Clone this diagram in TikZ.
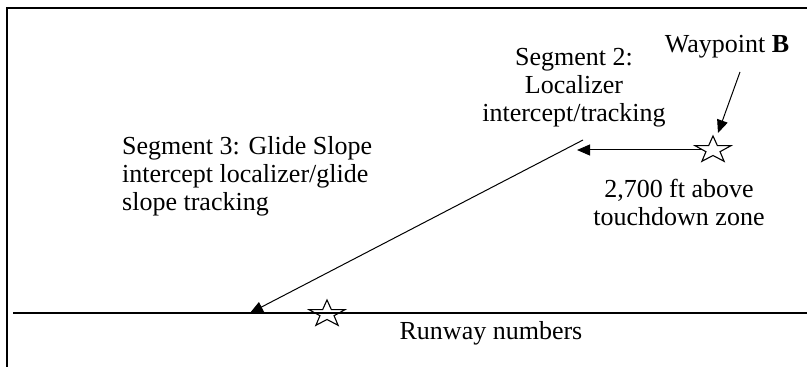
\documentclass[tikz,border=0pt]{standalone}
\usepackage{fontspec}
\setmainfont{Liberation Serif}
\usetikzlibrary{arrows.meta,shapes.geometric}

\begin{document}
\begin{tikzpicture}[x=1pt,y=1pt,
        lbl/.style={inner sep=0pt, font=\fontsize{26}{28}\selectfont},
        wpstar/.style={star, star points=5, star point ratio=2.55, draw, line width=1.1pt,
                       minimum size=28pt, inner sep=0pt, xscale=1.35},
        tip/.style={-{Triangle[length=13pt,width=11pt]}, line width=1pt}]
        \useasboundingbox (0,0) rectangle (807,367);

        % frame and runway
        \draw[line width=1.2pt] (7,0) -- (7,359) -- (807,359);
        \draw[line width=1.2pt] (13,54) -- (807,54);

        \node[wpstar] (wpb) at (713,217) {};
        \node[wpstar] (rwy) at (327,53) {};

        \coordinate (loctip) at (577,219);
        \coordinate (gstop) at (583,227);
        \coordinate (gstip) at (250,54);
        \coordinate (wpfrom) at (740,295);
        \coordinate (wpto) at (718,234);

        \draw[tip] (wpb.west) -- (wpb.west -| loctip);
        \draw[tip] (gstop) -- (gstip);
        \draw[tip] (wpfrom) -- (wpto);

        \node[lbl, anchor=base] (wplbl) at (727,314) {Waypoint \textbf{B}};
        \node[lbl, anchor=north, align=center] (seg2) at (574,319)
            {Segment 2:\\Localizer\\intercept/tracking};
        \node[lbl, anchor=north west, align=left] (seg3) at (122,231)
            {Segment 3: Glide Slope\\intercept localizer/glide\\slope tracking};
        \node[lbl, anchor=north, align=center] (alt) at (679,188)
            {2,700 ft above\\touchdown zone};
        \node[lbl, anchor=base] (rwylbl) at (491,27) {Runway numbers};
    \end{tikzpicture}
\end{document}
